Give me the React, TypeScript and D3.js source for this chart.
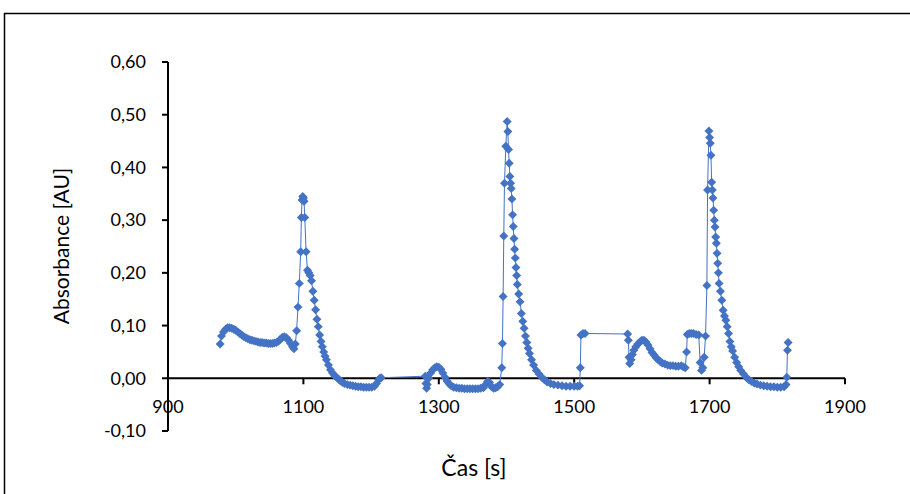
import React from "react";
import * as d3 from "d3";

const run1Times = [977,979,982,985,988,991,994,997,1000,1003,1006,1009,1012,1015,1018,1021,1024,1027,1030,1033,1036,1039,1042,1045,1048,1051,1054,1057,1060,1063,1066,1069,1072,1075,1078,1081,1084,1086,1088,1090,1092,1094,1096,1097,1098,1099,1100,1101,1102,1104,1106,1108,1110,1112,1114,1116,1118,1120,1122,1124,1126,1128,1130,1132,1134,1137,1140,1143,1146,1149,1152,1155,1158,1161,1165,1169,1173,1177,1181,1185,1189,1193,1197,1201,1205,1208,1211,1213,1215];
const run1Values = [0.065,0.080,0.088,0.093,0.096,0.096,0.095,0.093,0.091,0.088,0.085,0.082,0.079,0.077,0.075,0.073,0.072,0.071,0.070,0.069,0.068,0.068,0.067,0.067,0.066,0.066,0.066,0.067,0.068,0.070,0.074,0.078,0.079,0.077,0.072,0.066,0.060,0.056,0.065,0.090,0.135,0.180,0.240,0.305,0.338,0.345,0.342,0.336,0.305,0.240,0.205,0.200,0.195,0.185,0.165,0.148,0.130,0.112,0.098,0.082,0.070,0.060,0.050,0.042,0.035,0.025,0.016,0.010,0.005,0.002,-0.002,-0.005,-0.008,-0.010,-0.012,-0.013,-0.014,-0.015,-0.016,-0.016,-0.017,-0.017,-0.017,-0.017,-0.015,-0.010,-0.003,0.000,0.001];

const run2Times = [1280,1281,1282,1283,1285,1288,1291,1294,1297,1300,1303,1306,1309,1312,1315,1318,1322,1326,1330,1334,1338,1342,1346,1350,1354,1358,1362,1366,1369,1372,1375,1378,1381,1384,1387,1390,1393,1394,1395,1396,1397,1399,1401,1402,1403,1404,1405,1406,1407,1408,1409,1410,1411,1412,1413,1414,1415,1416,1418,1420,1422,1424,1426,1428,1430,1432,1434,1437,1440,1444,1448,1452,1456,1460,1465,1470,1476,1482,1488,1494,1500,1505,1508,1509,1510,1513,1516];
const run2Values = [0.004,-0.010,-0.019,-0.012,0.000,0.010,0.016,0.020,0.022,0.021,0.017,0.010,0.002,-0.005,-0.010,-0.014,-0.017,-0.018,-0.019,-0.019,-0.020,-0.020,-0.020,-0.020,-0.020,-0.020,-0.019,-0.018,-0.012,-0.006,-0.008,-0.016,-0.019,-0.018,-0.016,-0.012,0.020,0.066,0.155,0.270,0.370,0.440,0.487,0.468,0.434,0.408,0.383,0.370,0.360,0.340,0.310,0.288,0.265,0.245,0.228,0.210,0.195,0.178,0.160,0.145,0.123,0.108,0.095,0.080,0.068,0.057,0.047,0.035,0.025,0.015,0.008,0.002,-0.003,-0.007,-0.010,-0.012,-0.013,-0.014,-0.015,-0.015,-0.015,-0.015,-0.014,0.020,0.082,0.085,0.085];

const run3Times = [1579,1580,1581,1582,1584,1586,1588,1591,1594,1597,1600,1603,1606,1609,1612,1615,1618,1621,1624,1627,1630,1634,1638,1642,1646,1650,1654,1658,1661,1664,1666,1667,1670,1673,1676,1680,1684,1686,1688,1690,1692,1694,1696,1697,1699,1700,1701,1702,1703,1704,1705,1706,1707,1708,1709,1710,1711,1712,1713,1714,1716,1718,1720,1722,1724,1726,1728,1730,1732,1734,1737,1740,1743,1746,1750,1754,1758,1762,1766,1770,1775,1780,1785,1790,1795,1800,1805,1810,1813,1814,1815,1816];
const run3Values = [0.084,0.072,0.040,0.028,0.035,0.045,0.053,0.060,0.065,0.069,0.072,0.072,0.069,0.063,0.056,0.049,0.044,0.039,0.035,0.032,0.029,0.027,0.025,0.024,0.024,0.023,0.023,0.024,0.022,0.020,0.050,0.083,0.085,0.085,0.085,0.083,0.082,0.030,0.015,0.020,0.040,0.080,0.176,0.357,0.469,0.457,0.446,0.423,0.372,0.357,0.342,0.319,0.300,0.287,0.268,0.256,0.237,0.218,0.200,0.180,0.165,0.148,0.129,0.118,0.110,0.098,0.085,0.070,0.060,0.052,0.040,0.030,0.022,0.015,0.008,0.002,-0.003,-0.006,-0.009,-0.011,-0.013,-0.014,-0.015,-0.016,-0.016,-0.017,-0.017,-0.016,-0.012,0.002,0.053,0.068];

const xTicks = [900, 1100, 1300, 1500, 1700, 1900];
const yTicks = [-0.1, 0, 0.1, 0.2, 0.3, 0.4, 0.5, 0.6];
const xTitle = "Čas [s]";
const yTitle = "Absorbance [AU]";

const COLOR = "#4472C4";
const FONT = "Lato, 'Open Sans', sans-serif";

export default function App() {
  const times = [...run1Times, ...run2Times, ...run3Times];
  const values = [...run1Values, ...run2Values, ...run3Values];
  const data = times.map((t, i) => ({ t, v: values[i] }));

  const x = d3.scaleLinear().domain([900, 1900]).range([168, 845]);
  const y = d3.scaleLinear().domain([-0.1, 0.6]).range([431, 62]);

  const line = d3.line<{ t: number; v: number }>().x(d => x(d.t)).y(d => y(d.v));
  const marker = d3.symbol().type(d3.symbolSquare).size(40)() as string;
  const fmt = (v: number) => v.toFixed(2).replace(".", ",");

  return (
    <svg width={910} height={494} style={{ position: "absolute", left: 0, top: 0, background: "#fff" }}>
      <rect x={0} y={0} width={910} height={494} fill="#fff" />
      <rect x={4.5} y={13.5} width={920} height={500} fill="none" stroke="#000" strokeWidth={1.5} />
      <line x1={168} x2={168} y1={y(0.6)} y2={y(-0.1)} stroke="#000" strokeWidth={2} />
      <line x1={x(900)} x2={x(1900)} y1={y(0)} y2={y(0)} stroke="#000" strokeWidth={2} />
      {yTicks.map(v => (
        <g key={v}>
          <line x1={162} x2={168} y1={y(v)} y2={y(v)} stroke="#000" strokeWidth={2} />
          <text x={146} y={y(v)} dy="0.35em" textAnchor="end" fontFamily={FONT} fontSize={18} fill="#000">{fmt(v)}</text>
        </g>
      ))}
      {xTicks.map(v => (
        <g key={v}>
          <line x1={x(v)} x2={x(v)} y1={y(0)} y2={y(0) + 6} stroke="#000" strokeWidth={2} />
          <text x={x(v)} y={407} dy="0.35em" textAnchor="middle" fontFamily={FONT} fontSize={18} fill="#000">{v}</text>
        </g>
      ))}
      <text x={0} y={0} transform={`translate(62,246) rotate(-90)`} dy="0.35em" textAnchor="middle" fontFamily={FONT} fontSize={21} fill="#000">{yTitle}</text>
      <text x={474} y={468} dy="0.35em" textAnchor="middle" fontFamily={FONT} fontSize={23} fill="#000">{xTitle}</text>
      <path d={line(data) || ""} fill="none" stroke={COLOR} strokeWidth={1} />
      {data.map((d, i) => (
        <path key={i} d={marker} transform={`translate(${x(d.t)},${y(d.v)}) rotate(45)`} fill={COLOR} />
      ))}
    </svg>
  );
}
